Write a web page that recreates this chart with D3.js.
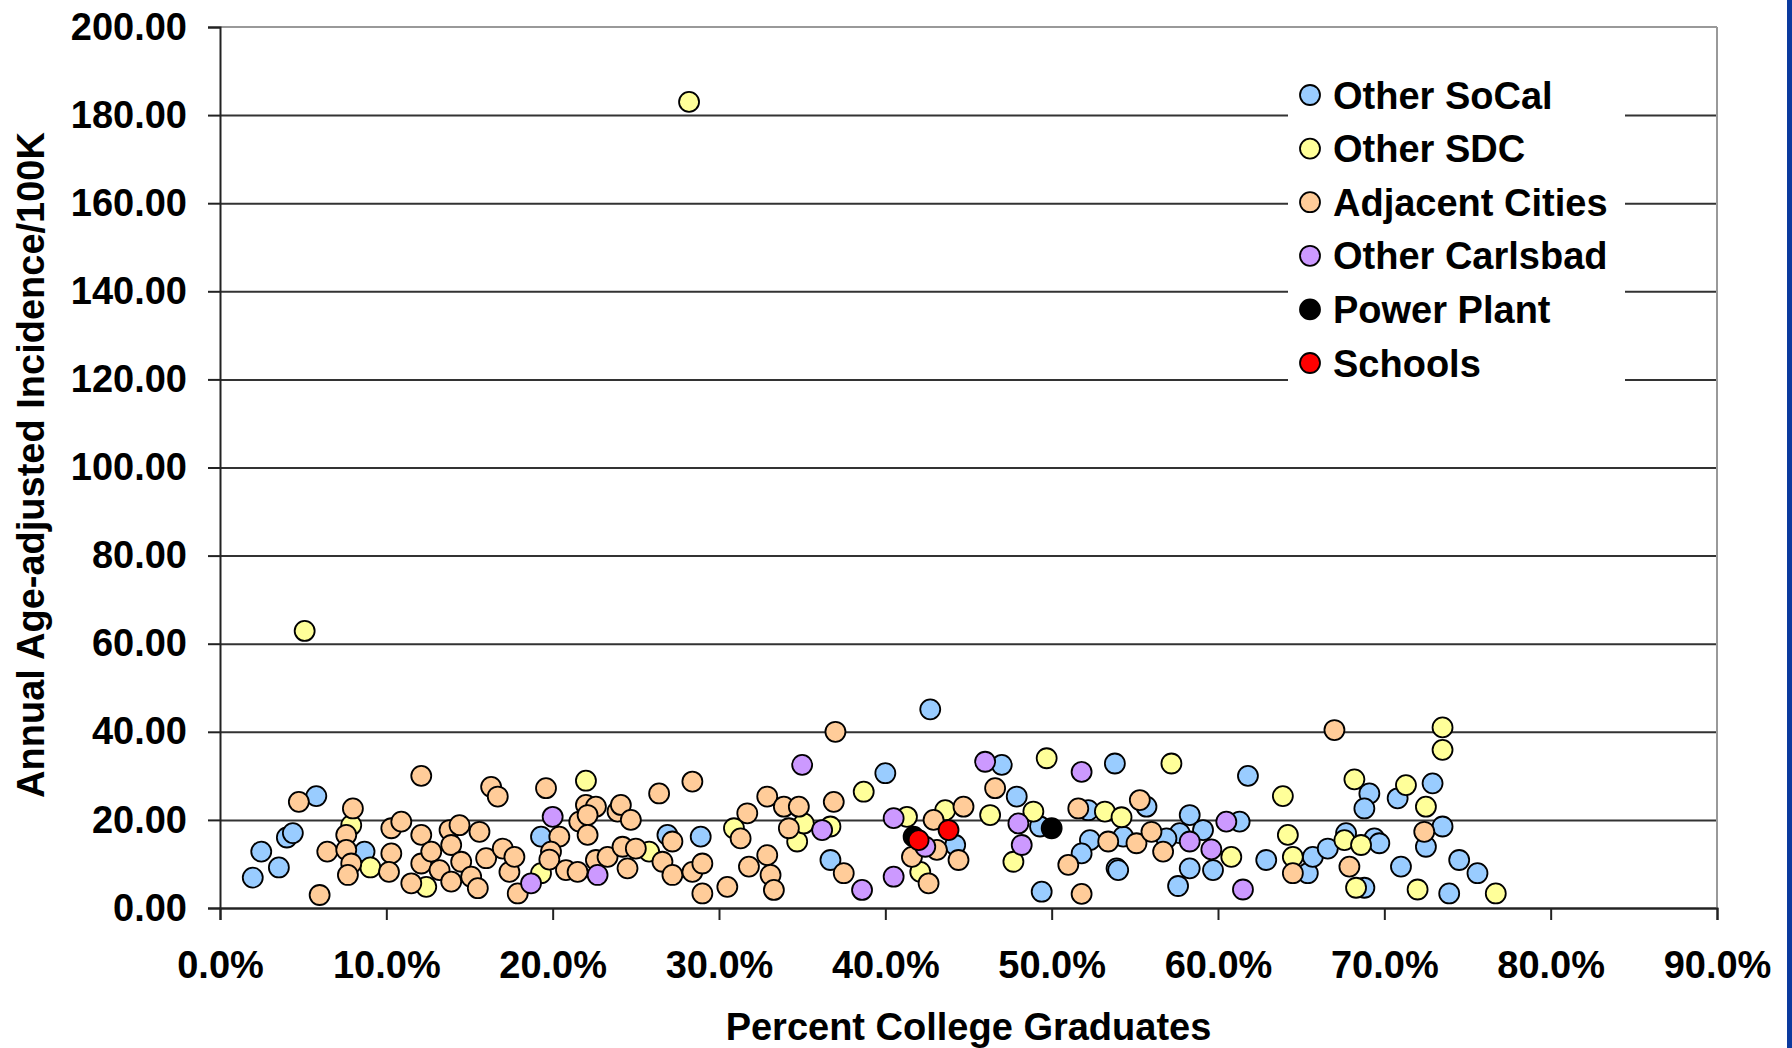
<!DOCTYPE html>
<html>
<head>
<meta charset="utf-8">
<script src="https://cdn.jsdelivr.net/npm/d3@7"></script>
<style>
  html, body { margin: 0; padding: 0; background: #fff; }
  svg text { font-family: "Liberation Sans", Arial, sans-serif; font-weight: bold; fill: #000; }
</style>
</head>
<body>
<div id="chart"></div>
<script>
// series, legend order
const seriesNames = ['Other SoCal', 'Other SDC', 'Adjacent Cities', 'Other Carlsbad', 'Power Plant', 'Schools'];
const seriesColors = ['#99ccff', '#ffff99', '#ffcc99', '#cc99ff', '#000000', '#ff0000'];

// [percent college graduates, incidence per 100K]
const otherSoCal = [
  [1.97,6.9],[2.48,12.8],[3.54,9.2],[4.02,16.0],[4.38,17.0],[5.79,25.4],[8.69,12.8],[19.3,16.2],
  [26.9,16.6],[28.9,16.2],[36.7,10.9],[40.0,30.6],[42.7,45.1],[44.2,14.3],[47.0,32.5],[47.9,25.3],
  [49.3,18.5],[49.4,3.7],[52.2,22.2],[52.3,15.4],[51.8,12.4],[53.9,9.0],[53.8,32.8],[55.7,23.0],
  [54.3,16.2],[54.0,8.6],[58.3,21.1],[57.7,17.0],[59.1,17.7],[56.9,15.8],[58.3,9.0],[59.7,8.6],
  [57.6,5.0],[61.3,19.6],[61.8,30.0],[62.9,10.9],[65.4,7.9],[65.7,11.6],[66.6,13.5],[67.7,17.0],
  [69.4,15.8],[69.7,14.7],[68.8,4.6],[69.1,26.0],[68.8,22.6],[70.8,24.9],[71.0,9.4],[72.9,28.3],
  [73.5,18.5],[72.5,13.9],[74.5,10.9],[75.6,7.9],[73.9,3.3]
];
const otherSDC = [
  [5.09,62.9],[7.89,18.8],[9.04,9.2],[12.4,4.8],[19.3,7.9],[22.0,28.9],[25.8,12.8],[28.2,183.0],
  [30.9,18.1],[34.7,15.1],[35.1,19.2],[36.7,18.5],[38.7,26.4],[41.3,20.7],[42.1,8.2],[43.6,22.2],
  [46.3,21.1],[47.7,10.5],[48.9,21.9],[49.7,34.0],[53.2,21.9],[54.2,20.6],[57.2,32.8],[60.8,11.6],
  [63.9,25.4],[64.2,16.6],[64.5,11.6],[67.6,15.4],[68.6,14.3],[68.3,4.6],[68.2,29.2],[71.3,27.9],
  [72.5,23.0],[72.0,4.2],[73.5,41.0],[73.5,35.9],[76.7,3.3]
];
const adjacentCities = [
  [4.74,24.1],[5.99,2.95],[6.45,12.8],[7.99,22.6],[7.59,16.6],[7.59,13.2],[7.89,10.1],[7.69,7.5],
  [10.3,18.1],[10.9,19.6],[10.3,12.4],[10.16,8.2],[12.1,30.0],[12.1,16.6],[11.5,5.6],[12.1,10.1],
  [12.7,12.8],[13.2,8.6],[13.9,6.0],[13.8,17.7],[14.4,18.8],[13.9,14.3],[14.5,10.5],[15.1,7.1],
  [15.5,4.5],[15.6,17.3],[16.3,27.5],[16.7,25.3],[16.0,11.3],[17.0,13.5],[17.4,8.2],[17.9,3.3],
  [17.7,11.6],[19.6,27.2],[20.4,16.2],[19.9,12.8],[19.8,11.0],[20.8,8.6],[21.5,8.2],[22.0,23.4],
  [22.6,23.0],[21.6,19.6],[22.1,21.1],[22.1,16.6],[22.6,10.9],[23.3,11.6],[23.9,21.9],[24.1,23.4],
  [24.7,20.0],[24.5,9.0],[24.2,13.9],[25.0,13.5],[26.4,26.0],[26.6,10.5],[27.2,7.5],[27.2,15.1],
  [28.4,28.7],[28.4,8.2],[29.0,10.1],[29.0,3.3],[30.5,4.8],[31.7,21.5],[31.3,15.8],[31.8,9.4],
  [32.9,25.3],[32.9,12.0],[33.1,7.5],[33.3,4.1],[33.9,23.0],[34.8,23.0],[34.2,18.1],[37.0,40.0],
  [36.9,24.1],[37.5,7.9],[41.6,11.6],[42.6,5.6],[42.9,20.0],[43.1,13.2],[44.7,23.0],[44.4,10.9],
  [46.6,27.2],[51.6,22.6],[53.4,15.1],[51.0,9.8],[51.8,3.2],[55.3,24.5],[55.1,14.7],[56.0,17.3],
  [56.7,12.8],[64.5,7.9],[67.0,40.4],[67.9,9.4],[72.4,17.3]
];
const otherCarlsbad = [
  [18.7,5.6],[20.0,20.7],[22.7,7.5],[35.0,32.5],[36.2,17.7],[38.6,4.1],[40.5,20.4],[40.5,7.1],
  [42.4,13.9],[46.0,33.2],[48.0,19.2],[48.2,14.3],[51.8,30.9],[58.3,15.1],[59.6,13.3],[60.5,19.6],
  [61.5,4.2]
];
const powerPlant = [[41.7,16.2],[50.0,18.1]];
const schools = [[42.0,15.4],[43.8,17.7]];

const xTicks = [0, 10, 20, 30, 40, 50, 60, 70, 80, 90];
const yTicks = [0, 20, 40, 60, 80, 100, 120, 140, 160, 180, 200];

const allSeries = [otherSoCal, otherSDC, adjacentCities, otherCarlsbad, powerPlant, schools];

const W = 1792, H = 1048;
const margin = {top: 27, right: 75, bottom: 140, left: 220};
const width = W - margin.left - margin.right;
const height = H - margin.top - margin.bottom;

const root = d3.select('#chart').append('svg')
  .attr('width', W)
  .attr('height', H);

// blue slide edge on the right
root.append('rect')
  .attr('x', 1787).attr('y', 0)
  .attr('width', 5).attr('height', H)
  .attr('fill', '#0b3a9e');

const svg = root.append('g')
  .attr('transform', `translate(${margin.left},${margin.top})`);

const x = d3.scaleLinear().domain([0, 90]).range([0, width]);
const y = d3.scaleLinear().domain([0, 200]).range([height, 0]);

// gridlines
svg.append('g')
  .call(d3.axisLeft(y).tickValues(yTicks.filter(d => d < 200)).tickSize(-width).tickFormat(''))
  .call(g => g.select('.domain').remove())
  .call(g => g.selectAll('line').attr('stroke', '#333').attr('stroke-width', 2));

// plot border (top and right)
svg.append('line')
  .attr('x1', 0).attr('x2', width).attr('y1', 0).attr('y2', 0)
  .attr('stroke', '#999').attr('stroke-width', 2);
svg.append('line')
  .attr('x1', width).attr('x2', width).attr('y1', 0).attr('y2', height)
  .attr('stroke', '#999').attr('stroke-width', 2);

// y axis
svg.append('g')
  .call(d3.axisLeft(y).tickValues(yTicks).tickSize(12).tickPadding(21).tickFormat(d3.format('.2f')))
  .call(g => g.selectAll('line, .domain').attr('stroke', '#222').attr('stroke-width', 2))
  .call(g => g.selectAll('text').attr('font-size', 38).attr('fill', '#000')
    .attr('font-family', '"Liberation Sans", Arial, sans-serif').attr('font-weight', 'bold'));

// x axis
svg.append('g')
  .attr('transform', `translate(0,${height})`)
  .call(d3.axisBottom(x).tickValues(xTicks).tickSize(12).tickPadding(31).tickFormat(d => d.toFixed(1) + '%'))
  .call(g => g.selectAll('line, .domain').attr('stroke', '#222').attr('stroke-width', 2))
  .call(g => g.selectAll('text').attr('font-size', 38).attr('fill', '#000')
    .attr('font-family', '"Liberation Sans", Arial, sans-serif').attr('font-weight', 'bold'));

// points
allSeries.forEach((data, i) => {
  svg.append('g')
    .selectAll('circle')
    .data(data)
    .enter().append('circle')
    .attr('cx', d => x(d[0]))
    .attr('cy', d => y(d[1]))
    .attr('r', 10)
    .attr('fill', seriesColors[i])
    .attr('stroke', '#000')
    .attr('stroke-width', 1.8);
});

// axis titles
root.append('text')
  .attr('transform', 'translate(31,465) rotate(-90)')
  .attr('text-anchor', 'middle')
  .attr('dy', '0.35em')
  .attr('font-size', 38)
  .text('Annual Age-adjusted Incidence/100K');

root.append('text')
  .attr('x', margin.left + width / 2)
  .attr('y', 1040)
  .attr('text-anchor', 'middle')
  .attr('font-size', 38)
  .text('Percent College Graduates');

// legend
const legend = root.append('g').attr('transform', 'translate(1288,66)');
legend.append('rect')
  .attr('width', 337).attr('height', 328)
  .attr('fill', '#fff');

const rows = legend.selectAll('g.row')
  .data(seriesNames)
  .enter().append('g')
  .attr('class', 'row')
  .attr('transform', (d, i) => `translate(0,${29 + i * 53.6})`);

rows.append('circle')
  .attr('cx', 22).attr('cy', 0).attr('r', 10)
  .attr('fill', (d, i) => seriesColors[i])
  .attr('stroke', '#000').attr('stroke-width', 1.8);

rows.append('text')
  .attr('x', 45)
  .attr('dy', '0.36em')
  .attr('font-size', 38)
  .text(d => d);
</script>
</body>
</html>
